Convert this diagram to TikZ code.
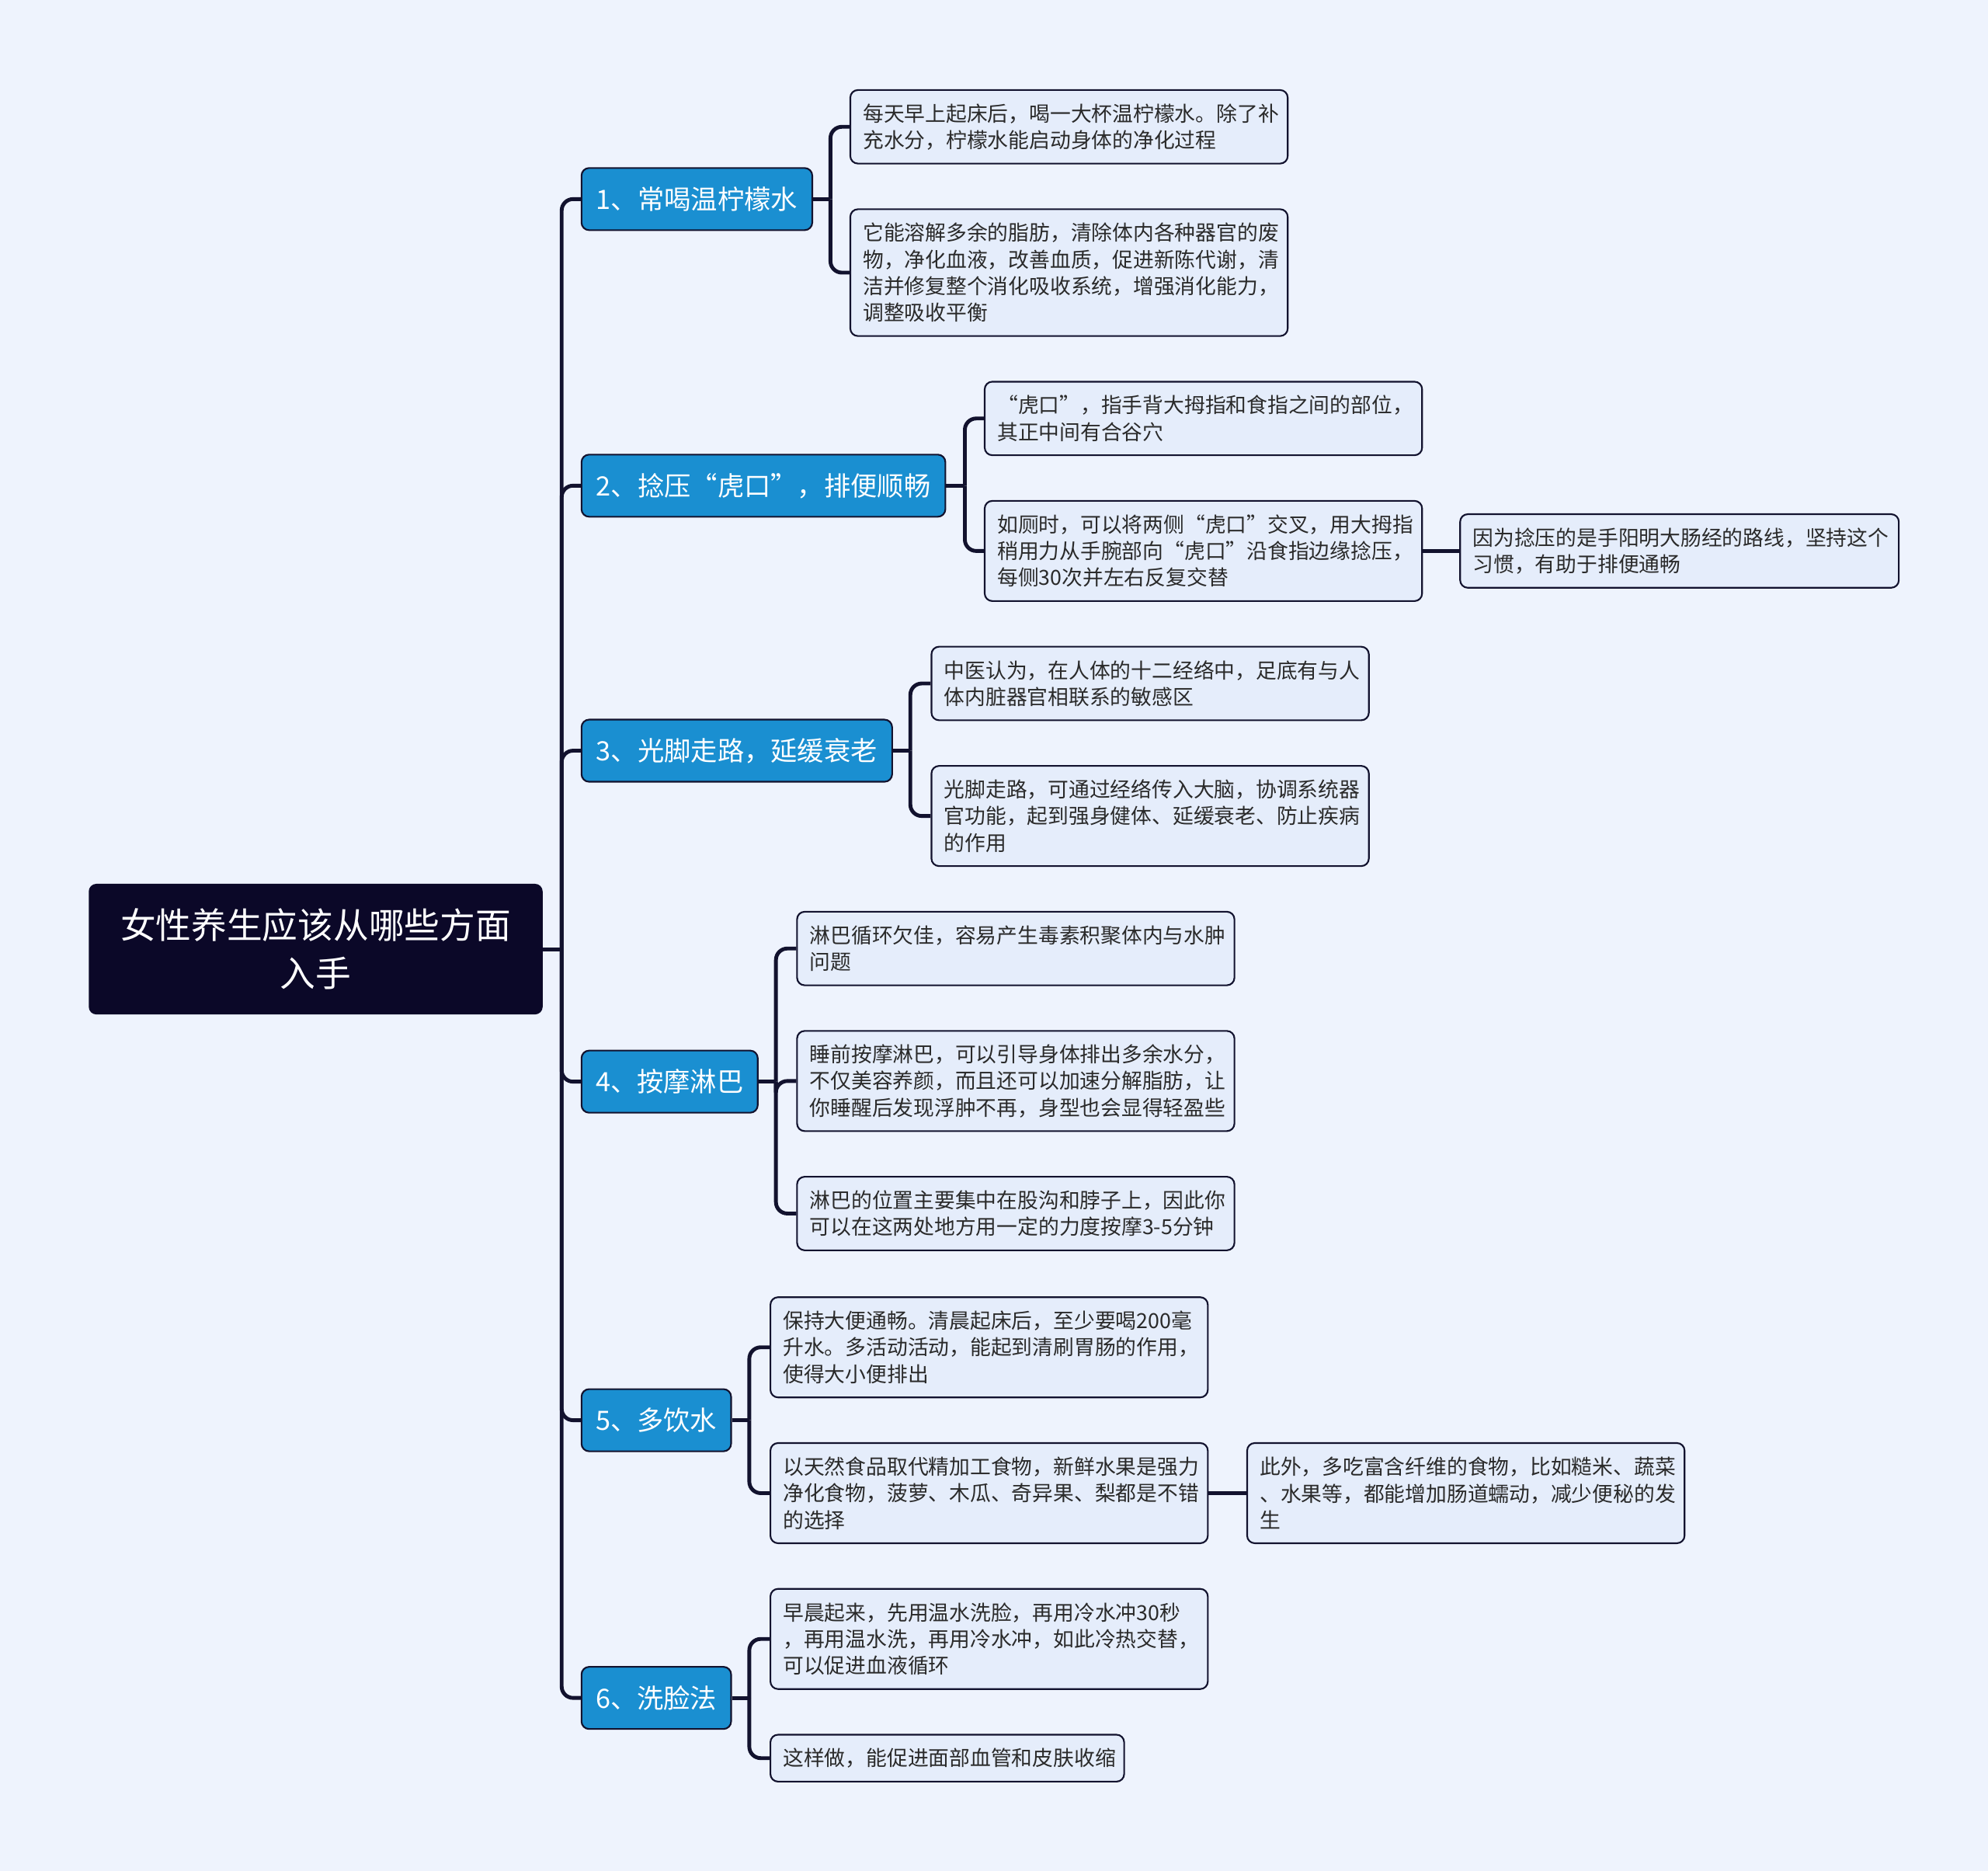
\documentclass[tikz,border=0pt]{standalone}
\usepackage{fontspec}
\setmainfont{Noto Sans CJK SC}
\definecolor{bgc}{HTML}{EEF3FD}
\definecolor{rootc}{HTML}{0B0828}
\definecolor{branchc}{HTML}{1A8FD1}
\definecolor{leafc}{HTML}{E5EDFB}
\definecolor{linec}{HTML}{12122E}
\definecolor{txtc}{HTML}{2A2A2A}
\tikzset{
  leaf/.style={draw=linec, line width=1.3pt, fill=leafc, rounded corners=6pt, align=left,
    inner xsep=10pt, inner ysep=0pt, anchor=west, text=txtc,
    font=\fontsize{16.4}{21}\selectfont},
  branchbox/.style={draw=linec, line width=1.3pt, fill=branchc, rounded corners=6pt, text=white,
    font=\fontsize{21}{25}\selectfont, minimum height=49pt, anchor=west, inner sep=0pt},
  rootbox/.style={fill=rootc, rounded corners=6pt, text=white, align=center,
    font=\fontsize{28}{38}\selectfont, minimum width=358pt, minimum height=103pt, inner sep=0pt},
  conn/.style={draw=linec, line width=3pt, rounded corners=9pt},
  straight/.style={draw=linec, line width=3pt},
}
\begin{document}
\begin{tikzpicture}[x=1pt,y=-1pt]
\fill[bgc] (0,0) rectangle (1568,1475.5);
\useasboundingbox (0,0) rectangle (1568,1475.5);

% root
\node[rootbox] (root) at (249,748.5) {女性养生应该从哪些方面\\入手};

% branches
\node[branchbox, minimum width=182pt] (b1) at (458,157) {1、常喝温柠檬水};
\node[branchbox, minimum width=287pt] (b2) at (458,383) {2、捻压“虎口”，排便顺畅};
\node[branchbox, minimum width=245pt] (b3) at (458,592) {3、光脚走路，延缓衰老};
\node[branchbox, minimum width=139pt] (b4) at (458,853) {4、按摩淋巴};
\node[branchbox, minimum width=118pt] (b5) at (458,1120) {5、多饮水};
\node[branchbox, minimum width=118pt] (b6) at (458,1339) {6、洗脸法};

% leaves
\node[leaf, text width=325pt, minimum height=58pt] (l1a) at (670,100) {每天早上起床后，喝一大杯温柠檬水。除了补\\充水分，柠檬水能启动身体的净化过程};
\node[leaf, text width=325pt, minimum height=100pt] (l1b) at (670,215) {它能溶解多余的脂肪，清除体内各种器官的废\\物，净化血液，改善血质，促进新陈代谢，清\\洁并修复整个消化吸收系统，增强消化能力，\\调整吸收平衡};

\node[leaf, text width=325pt, minimum height=58pt] (l2a) at (776,330) {“虎口”，指手背大拇指和食指之间的部位，\\其正中间有合谷穴};
\node[leaf, text width=325pt, minimum height=79pt] (l2b) at (776,434.5) {如厕时，可以将两侧“虎口”交叉，用大拇指\\稍用力从手腕部向“虎口”沿食指边缘捻压，\\每侧30次并左右反复交替};
\node[leaf, text width=326pt, minimum height=58pt] (l2c) at (1151,434.5) {因为捻压的是手阳明大肠经的路线，坚持这个\\习惯，有助于排便通畅};

\node[leaf, text width=325pt, minimum height=58pt] (l3a) at (734,539) {中医认为，在人体的十二经络中，足底有与人\\体内脏器官相联系的敏感区};
\node[leaf, text width=325pt, minimum height=79pt] (l3b) at (734,643.5) {光脚走路，可通过经络传入大脑，协调系统器\\官功能，起到强身健体、延缓衰老、防止疾病\\的作用};

\node[leaf, text width=325pt, minimum height=58pt] (l4a) at (628,748) {淋巴循环欠佳，容易产生毒素积聚体内与水肿\\问题};
\node[leaf, text width=325pt, minimum height=79pt] (l4b) at (628,852.5) {睡前按摩淋巴，可以引导身体排出多余水分，\\不仅美容养颜，而且还可以加速分解脂肪，让\\你睡醒后发现浮肿不再，身型也会显得轻盈些};
\node[leaf, text width=325pt, minimum height=58pt] (l4c) at (628,957) {淋巴的位置主要集中在股沟和脖子上，因此你\\可以在这两处地方用一定的力度按摩3-5分钟};

\node[leaf, text width=325pt, minimum height=79pt] (l5a) at (607,1062.5) {保持大便通畅。清晨起床后，至少要喝200毫\\升水。多活动活动，能起到清刷胃肠的作用，\\使得大小便排出};
\node[leaf, text width=325pt, minimum height=79pt] (l5b) at (607,1177.5) {以天然食品取代精加工食物，新鲜水果是强力\\净化食物，菠萝、木瓜、奇异果、梨都是不错\\的选择};
\node[leaf, text width=325pt, minimum height=79pt] (l5c) at (983,1177.5) {此外，多吃富含纤维的食物，比如糙米、蔬菜\\、水果等，都能增加肠道蠕动，减少便秘的发\\生};

\node[leaf, text width=325pt, minimum height=79pt] (l6a) at (607,1292.5) {早晨起来，先用温水洗脸，再用冷水冲30秒\\，再用温水洗，再用冷水冲，如此冷热交替，\\可以促进血液循环};
\node[leaf, text width=259pt, minimum height=37pt] (l6b) at (607,1386.5) {这样做，能促进面部血管和皮肤收缩};

% fork coordinates
\coordinate (f0) at (443,748.5);
\coordinate (f1) at (655,157);
\coordinate (f2) at (761,383);
\coordinate (f3) at (718,592);
\coordinate (f4) at (612,853);
\coordinate (f5) at (591,1120);
\coordinate (f6) at (591,1339);

% connectors
\draw[straight] (root.east) -- (f0);
\foreach \b in {b1,b2,b3,b4,b5,b6} {\draw[conn] (f0) |- (\b.west);}

\draw[straight] (b1.east) -- (f1);
\foreach \l in {l1a,l1b} {\draw[conn] (f1) |- (\l.west);}

\draw[straight] (b2.east) -- (f2);
\foreach \l in {l2a,l2b} {\draw[conn] (f2) |- (\l.west);}
\draw[straight] (l2b.east) -- (l2c.west);

\draw[straight] (b3.east) -- (f3);
\foreach \l in {l3a,l3b} {\draw[conn] (f3) |- (\l.west);}

\draw[straight] (b4.east) -- (f4);
\foreach \l in {l4a,l4b,l4c} {\draw[conn] (f4) |- (\l.west);}

\draw[straight] (b5.east) -- (f5);
\foreach \l in {l5a,l5b} {\draw[conn] (f5) |- (\l.west);}
\draw[straight] (l5b.east) -- (l5c.west);

\draw[straight] (b6.east) -- (f6);
\foreach \l in {l6a,l6b} {\draw[conn] (f6) |- (\l.west);}
\end{tikzpicture}
\end{document}
